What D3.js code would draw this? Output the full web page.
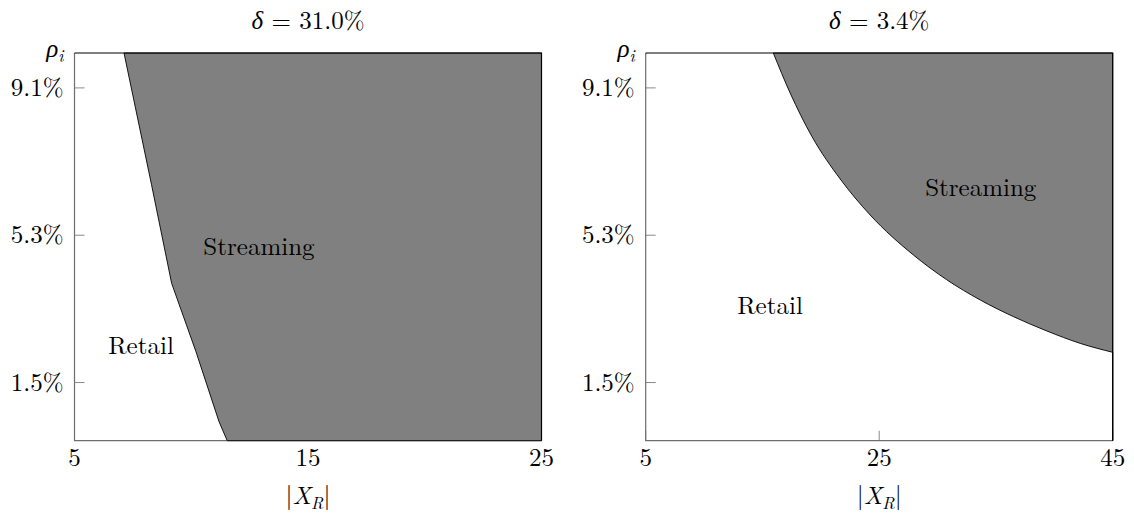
<!DOCTYPE html>
<html>
<head>
<meta charset="utf-8">
<script src="https://cdn.jsdelivr.net/npm/d3@7"></script>
<style>
  html, body { margin: 0; padding: 0; background: #fff; }
  svg text { font-family: 'Latin Modern Roman', 'CMU Serif', 'Liberation Serif', serif; fill: #000; }
</style>
</head>
<body>
<svg id="chart" width="1134" height="515"></svg>
<script>
// Panel titles
const titles = ['31.0%', '3.4%']

// Shared y axis (rho_i, %)
const yDomain = [0, 10]
const yTicks = [1.5, 5.3, 9.1]

// Left panel (delta = 31.0%)
const leftXDomain = [5, 25]
const leftXTicks = [5, 15, 25]
const leftBoundary = [
  [7.12, 10], [8.3, 6.6], [9.16, 4.06], [10.2, 2.3], [11.19, 0.49], [11.54, 0],
]

// Right panel (delta = 3.4%)
const rightXDomain = [5, 45]
const rightXTicks = [5, 25, 45]
const rightBoundary = [
  [15.93, 10], [17.37, 8.97], [19.23, 7.85], [21.66, 6.75], [24.23, 5.82],
  [27.93, 4.79], [30.79, 4.15], [33.65, 3.63], [36.5, 3.2], [39.36, 2.83],
  [42.22, 2.51], [45, 2.28],
]

// Region labels [x, y, text]
const leftLabels = [[12.9, 5.0, 'Streaming'], [7.85, 2.44, 'Retail']]
const rightLabels = [[33.7, 6.52, 'Streaming'], [15.65, 3.48, 'Retail']]

const svg = d3.select('#chart')
const plotTop = 53
const plotBottom = 440.7
const panelW = 467

function drawPanel({ left, xDomain, xTicks, boundary, labels, title, curve }) {
  const x = d3.scaleLinear().domain(xDomain).range([left, left + panelW])
  const y = d3.scaleLinear().domain(yDomain).range([plotBottom, plotTop])
  const g = svg.append('g')

  // inward ticks
  g.selectAll('line.yt').data(yTicks).join('line')
    .attr('x1', x(xDomain[0])).attr('x2', x(xDomain[0]) + 10)
    .attr('y1', (d) => y(d)).attr('y2', (d) => y(d))
    .attr('stroke', '#8a8a8a').attr('stroke-width', 1)
  g.selectAll('line.xt').data(xTicks).join('line')
    .attr('x1', (d) => x(d)).attr('x2', (d) => x(d))
    .attr('y1', plotBottom).attr('y2', plotBottom - 10)
    .attr('stroke', '#8a8a8a').attr('stroke-width', 1)

  // left + bottom axis lines
  g.append('path')
    .attr('d', `M${x(xDomain[0])},${y(yDomain[1])}V${y(yDomain[0])}H${x(xDomain[1])}`)
    .attr('fill', 'none').attr('stroke', '#6e6e6e').attr('stroke-width', 1.2)

  // streaming region: boundary curve, then round the right-hand corners
  const line = d3.line().x((d) => x(d[0])).y((d) => y(d[1])).curve(curve)
  const corners = [[xDomain[1], yDomain[0]], [xDomain[1], yDomain[1]]]
  const tail = corners.map((d) => `L${x(d[0])},${y(d[1])}`).join('')
  g.append('path')
    .attr('d', line(boundary) + tail + 'Z')
    .attr('fill', '#808080').attr('stroke', '#000').attr('stroke-width', 0.9)
    .attr('stroke-linejoin', 'round')

  // top + right frame
  g.append('path')
    .attr('d', `M${x(xDomain[0])},${y(yDomain[1])}H${x(xDomain[1])}V${y(yDomain[0])}`)
    .attr('fill', 'none').attr('stroke', '#000').attr('stroke-width', 1.2)

  // tick labels
  g.selectAll('text.yl').data(yTicks).join('text')
    .attr('x', x(xDomain[0]) - 11).attr('y', (d) => y(d) + 8)
    .attr('text-anchor', 'end').attr('font-size', 25)
    .text((d) => d.toFixed(1) + '%')
  g.selectAll('text.xl').data(xTicks).join('text')
    .attr('x', (d) => x(d)).attr('y', 466)
    .attr('text-anchor', 'middle').attr('font-size', 25)
    .text((d) => d)

  // region labels
  g.selectAll('text.rl').data(labels).join('text')
    .attr('x', (d) => x(d[0])).attr('y', (d) => y(d[1]) + 8)
    .attr('text-anchor', 'middle').attr('font-size', 25)
    .text((d) => d[2])

  const cx = left + panelW / 2

  // title
  const t = g.append('text').attr('x', cx).attr('y', 29).attr('text-anchor', 'middle').attr('font-size', 25)
  t.append('tspan').attr('font-style', 'italic').text('δ')
  t.append('tspan').text(' = ' + title)

  // y label rho_i
  const yl = g.append('text').attr('x', x(xDomain[0]) - 11).attr('y', 57).attr('text-anchor', 'end').attr('font-size', 25)
  yl.append('tspan').attr('font-style', 'italic').text('ρ')
  yl.append('tspan').attr('font-style', 'italic').attr('font-size', 17).attr('dy', 5).text('i')

  // x label |X_R|
  const xl = g.append('text').attr('x', cx).attr('y', 504).attr('text-anchor', 'middle').attr('font-size', 25)
  xl.append('tspan').attr('fill', '#000').text('|')
  xl.append('tspan').attr('fill', '#000').attr('font-style', 'italic').text('X')
  xl.append('tspan').attr('fill', '#000').attr('font-style', 'italic').attr('font-size', 17).attr('dy', 5).text('R')
  xl.append('tspan').attr('fill', '#000').attr('dy', -5).text('|')
}

drawPanel({ left: 74.5, xDomain: leftXDomain, xTicks: leftXTicks, boundary: leftBoundary, labels: leftLabels, title: titles[0], curve: d3.curveLinear })
drawPanel({ left: 645.7, xDomain: rightXDomain, xTicks: rightXTicks, boundary: rightBoundary, labels: rightLabels, title: titles[1], curve: d3.curveMonotoneX })
</script>
</body>
</html>
